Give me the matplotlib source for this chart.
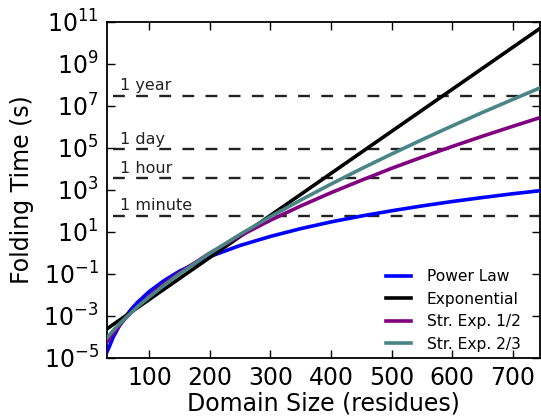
import matplotlib
matplotlib.use("Agg")
import matplotlib.pyplot as plt
import numpy as np
from matplotlib.ticker import NullLocator

# Domain sizes (residues) at which curves were read
L = [30, 35, 40, 50, 60, 70, 80, 100, 125, 150, 200, 250, 300, 350, 400,
     450, 500, 550, 600, 650, 700, 750]

# log10 folding time (s)
log_power = [-4.71, -4.38, -4.02, -3.49, -3.05, -2.68, -2.36, -1.83, -1.30, -0.86,
             -0.17, 0.36, 0.79, 1.16, 1.48, 1.76, 2.01, 2.24, 2.45, 2.64, 2.82, 2.98]
log_exp = [-3.61, -3.51, -3.41, -3.21, -3.01, -2.81, -2.61, -2.21, -1.71, -1.21,
           -0.21, 0.79, 1.79, 2.79, 3.79, 4.79, 5.79, 6.79, 7.79, 8.79, 9.79, 10.79]
log_str12 = [-4.25, -4.03, -3.83, -3.47, -3.13, -2.83, -2.55, -2.03, -1.45, -0.93,
             0.00, 0.82, 1.56, 2.24, 2.87, 3.46, 4.03, 4.56, 5.07, 5.56, 6.03, 6.49]
log_str23 = [-4.04, -3.87, -3.70, -3.39, -3.11, -2.84, -2.57, -2.09, -1.52, -0.99,
             -0.01, 0.89, 1.73, 2.52, 3.28, 4.01, 4.71, 5.39, 6.05, 6.69, 7.31, 7.92]

series_labels = ["Power Law", "Exponential", "Str. Exp. 1/2", "Str. Exp. 2/3"]
series_colors = ["#0000ff", "#000000", "#800080", "#4a8585"]

# reference times
ref_labels = ["1 minute", "1 hour", "1 day", "1 year"]
ref_values = [60, 3600, 86400, 3.1536e7]

yticks = [1e-5, 1e-3, 1e-1, 1e1, 1e3, 1e5, 1e7, 1e9, 1e11]
ytick_labels = [r"$10^{-5}$", r"$10^{-3}$", r"$10^{-1}$", r"$10^{1}$", r"$10^{3}$",
                r"$10^{5}$", r"$10^{7}$", r"$10^{9}$", r"$10^{11}$"]
xticks = [100, 200, 300, 400, 500, 600, 700]

plt.rcParams['mathtext.fontset'] = 'dejavusans'
fig = plt.figure(figsize=(5.41, 4.19), dpi=100)
ax = fig.add_axes([0.1978, 0.1456, 0.8012, 0.8019])

for lv, lab, col in zip([log_power, log_exp, log_str12, log_str23], series_labels, series_colors):
    ax.plot(L, 10 ** np.array(lv), color=col, lw=2.6, label=lab, zorder=3)

for lab, v in zip(ref_labels, ref_values):
    ax.plot([40, 750], [v, v], color="#222222", lw=1.7, dashes=(5.0, 4.8), zorder=2)
    ax.text(52, v * 1.35, lab, fontsize=11.5, va="bottom", ha="left", color="#222222")

ax.set_yscale("log")
ax.set_xlim(30, 746)
ax.set_ylim(1e-5, 1e11)
ax.set_yticks(yticks)
ax.set_yticklabels(ytick_labels)
ax.yaxis.set_minor_locator(NullLocator())
ax.set_xticks(xticks)
ax.tick_params(direction="in", top=True, right=True, length=6, width=1, labelsize=17, pad=6)
for s in ax.spines.values():
    s.set_linewidth(1.3)

ax.set_xlabel("Domain Size (residues)", fontsize=17, labelpad=1)
ax.set_ylabel("Folding Time (s)", fontsize=17, labelpad=7)

ax.legend(loc="lower right", frameon=False, fontsize=11.2, handlelength=1.6,
          handletextpad=1.0, labelspacing=0.48, borderaxespad=0.0,
          bbox_to_anchor=(0.969, 0.0))

fig.savefig("out.png", dpi=100)
